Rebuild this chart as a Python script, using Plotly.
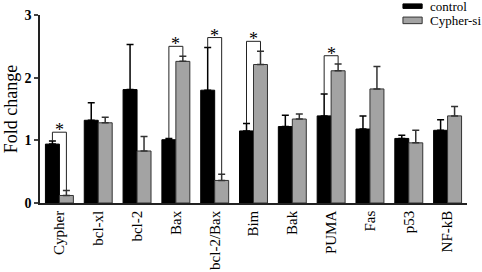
import plotly.graph_objects as go

genes = ["Cypher", "bcl-xl", "bcl-2", "Bax", "bcl-2/Bax", "Bim", "Bak", "PUMA", "Fas", "p53", "NF-kB"]
control = [0.94, 1.32, 1.81, 1.01, 1.80, 1.15, 1.22, 1.39, 1.18, 1.03, 1.16]
control_err = [0.05, 0.28, 0.72, 0.02, 0.68, 0.12, 0.18, 0.35, 0.21, 0.05, 0.17]
cypher_si = [0.12, 1.28, 0.83, 2.26, 0.36, 2.21, 1.34, 2.11, 1.82, 0.96, 1.39]
cypher_si_err = [0.08, 0.09, 0.23, 0.08, 0.10, 0.21, 0.08, 0.11, 0.36, 0.20, 0.15]

# significant pairs: gene index and bracket height
sig_idx = [0, 3, 4, 5, 7]
sig_height = [1.13, 2.50, 2.64, 2.58, 2.35]

x = list(range(len(genes)))
serif = "Liberation Serif"
grey = "#a3a3a3"

fig = go.Figure()
fig.add_trace(go.Bar(x=x, y=control, name="control",
                     marker=dict(color="black", line=dict(color="black", width=1)),
                     error_y=dict(type="data", array=control_err, symmetric=False,
                                  arrayminus=[0] * len(genes), color="black",
                                  thickness=1.5, width=3.5)))
fig.add_trace(go.Bar(x=x, y=cypher_si, name="Cypher-si",
                     marker=dict(color=grey, line=dict(color="#333333", width=1)),
                     error_y=dict(type="data", array=cypher_si_err, symmetric=False,
                                  arrayminus=[0] * len(genes), color="#333333",
                                  thickness=1.5, width=3.5)))

off = 0.18
for i, h in zip(sig_idx, sig_height):
    left = control[i] + control_err[i]
    right = cypher_si[i] + cypher_si_err[i]
    fig.add_trace(go.Scatter(x=[i - off, i - off, i + off, i + off], y=[left, h, h, right],
                             mode="lines", line=dict(color="#222222", width=1),
                             showlegend=False, hoverinfo="skip"))
    fig.add_annotation(x=i, y=h, text="*", showarrow=False, yanchor="bottom", yshift=-10,
                       font=dict(family=serif, size=18, color="black"))

# hand-drawn legend (wide flat swatches like the original)
legend_items = [("control", "black", "black", 1.059, 1.035),
                ("Cypher-si", grey, "#333333", 0.989, 0.954)]
for label, fill, edge, y1, y0 in legend_items:
    fig.add_shape(type="rect", xref="paper", yref="paper", x0=0.850, x1=0.895, y0=y0, y1=y1,
                  fillcolor=fill, line=dict(color=edge, width=1))
    fig.add_annotation(xref="paper", yref="paper", x=0.908, y=(y0 + y1) / 2, text=label,
                       showarrow=False, xanchor="left", yanchor="middle",
                       font=dict(family=serif, size=13, color="black"))

fig.update_layout(
    width=482, height=272,
    margin=dict(l=40, r=15, t=15, b=69, autoexpand=False),
    plot_bgcolor="white", paper_bgcolor="white",
    barmode="group", bargap=0.28, bargroupgap=0,
    font=dict(family=serif, color="black"),
    showlegend=False,
)
fig.update_xaxes(range=[-0.5, 10.5], tickvals=x, ticktext=genes, tickangle=-90,
                 showline=True, linecolor="#222222", linewidth=1.5, ticks="",
                 showgrid=False, zeroline=False, automargin=False, ticklabeloverflow="allow",
                 tickfont=dict(family=serif, size=15, color="black"))
fig.update_yaxes(range=[0, 3], tickvals=[0, 1, 2, 3], showline=True, linecolor="#222222",
                 linewidth=1.5, ticks="outside", ticklen=4, tickwidth=1.5,
                 showgrid=False, zeroline=False, automargin=False, ticklabeloverflow="allow",
                 tickfont=dict(family=serif, size=14, color="black", weight="bold"),
                 title=dict(text="Fold change", standoff=2,
                            font=dict(family=serif, size=18, color="black")))

# drop the default body margin so the figure sits at the page corner
fig.write_html("out.html", config={"displayModeBar": False},
               post_script="document.body.style.margin='0';")
